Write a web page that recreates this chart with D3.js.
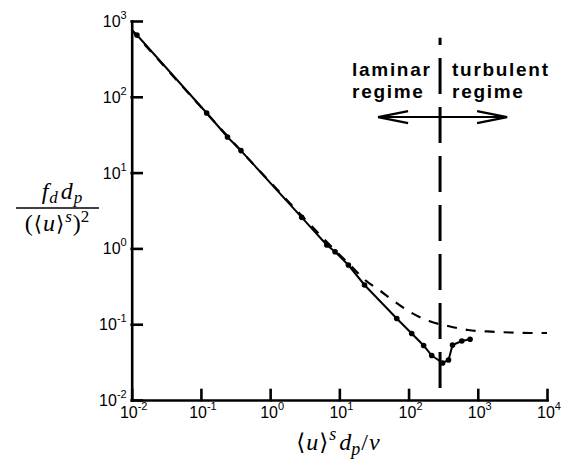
<!DOCTYPE html>
<head>
<meta charset="utf-8">
<style>
    body { margin: 0; background: #fff; }
    .lbl { font-family: "Liberation Sans", Arial, sans-serif; font-size: 16px; }
    .math { font-family: "Liberation Serif", "DejaVu Serif", serif; font-size: 24px; }
    .note { font-family: "Liberation Sans", Arial, sans-serif; font-size: 19px; font-weight: bold; letter-spacing: 1.7px; }
</style>
<script src="https://d3js.org/d3.v7.min.js"></script>
</head>
<body>
<script>
// data
var reData = [0.01, 0.0119, 0.121, 0.242, 0.379, 2.86, 6.58, 8.67, 13.5, 23.1, 67.5, 111, 165, 216, 310, 378, 432, 587, 774];
var fData  = [760, 653, 61.1, 29.5, 19.5, 2.57, 1.11, 0.904, 0.604, 0.329, 0.119, 0.0754, 0.0524, 0.0386, 0.0308, 0.0337, 0.0532, 0.060, 0.0632];

var reCorr = [0.01, 1, 10, 14.3, 23.5, 37.5, 61.7, 105, 198, 372, 724, 1362, 2930, 5700, 10000];
var fCorr  = [760, 7.5, 0.83, 0.604, 0.383, 0.283, 0.202, 0.145, 0.110, 0.0946, 0.0838, 0.0802, 0.0777, 0.0765, 0.0765];

var xTicks = [-2, -1, 0, 1, 2, 3, 4];
var yTicks = [-2, -1, 0, 1, 2, 3];

var reTransition = 285;       // vertical dashed line
var vLineY = [0.0144, 600];
var arrowY = 54, arrowX = [36.3, 2650];

var width = 569, height = 464;
var svg = d3.select("body").append("svg")
    .attr("width", width)
    .attr("height", height);

var x = d3.scaleLog().domain([1e-2, 1e4]).range([131.7, 547]);
var y = d3.scaleLog().domain([1e-2, 1e3]).range([400, 21]);

// axes, ticks pointing inward
svg.append("g")
    .attr("transform", "translate(0," + y.range()[0] + ")")
    .call(d3.axisBottom(x)
        .tickValues(xTicks.map(function(e) { return Math.pow(10, e); }))
        .tickSizeInner(-10).tickSizeOuter(0).tickFormat(""));
svg.append("g")
    .attr("transform", "translate(" + x.range()[0] + ",0)")
    .call(d3.axisLeft(y)
        .tickValues(yTicks.map(function(e) { return Math.pow(10, e); }))
        .tickSizeInner(-10).tickSizeOuter(0).tickFormat(""));
svg.selectAll(".domain, .tick line")
    .attr("stroke", "#000")
    .attr("stroke-width", 2.6)
    .attr("stroke-linecap", "square");

xTicks.forEach(function(e) {
    var t = svg.append("text").attr("class", "lbl")
        .attr("x", x(Math.pow(10, e)) + 2)
        .attr("y", y.range()[0] + 18)
        .attr("text-anchor", "middle");
    t.append("tspan").text("10");
    t.append("tspan").attr("dy", -8).attr("font-size", 11).text(e);
});
yTicks.forEach(function(e) {
    var t = svg.append("text").attr("class", "lbl")
        .attr("x", x.range()[0] - 5)
        .attr("y", y(Math.pow(10, e)) + 6)
        .attr("text-anchor", "end");
    t.append("tspan").text("10");
    t.append("tspan").attr("dy", -8).attr("font-size", 11).text(e);
});

// correlation (dashed)
var corr = reCorr.map(function(d, i) { return [d, fCorr[i]]; });
svg.append("path")
    .datum(corr)
    .attr("fill", "none")
    .attr("stroke", "#000")
    .attr("stroke-width", 2.2)
    .attr("stroke-dasharray", "10,9")
    .attr("d", d3.line()
        .x(function(d) { return x(d[0]); })
        .y(function(d) { return y(d[1]); })
        .curve(d3.curveMonotoneX));

// simulation (solid + dots)
var pts = reData.map(function(d, i) { return [d, fData[i]]; });
svg.append("path")
    .datum(pts)
    .attr("fill", "none")
    .attr("stroke", "#000")
    .attr("stroke-width", 2)
    .attr("d", d3.line()
        .x(function(d) { return x(d[0]); })
        .y(function(d) { return y(d[1]); }));
svg.append("g").selectAll("circle")
    .data(pts.filter(function(d) { return d[0] > x.domain()[0]; }))
    .enter().append("circle")
    .attr("cx", function(d) { return x(d[0]); })
    .attr("cy", function(d) { return y(d[1]); })
    .attr("r", 2.8)
    .attr("fill", "#000");

// transition line
var vx = x(reTransition);
svg.append("line")
    .attr("x1", vx).attr("x2", vx)
    .attr("y1", y(vLineY[0])).attr("y2", y(vLineY[1]))
    .attr("stroke", "#000")
    .attr("stroke-width", 3)
    .attr("stroke-dasharray", "36,13");

// arrow
var ay = y(arrowY), ax0 = x(arrowX[0]), ax1 = x(arrowX[1]);
svg.append("line")
    .attr("x1", ax0).attr("x2", ax1)
    .attr("y1", ay).attr("y2", ay)
    .attr("stroke", "#000").attr("stroke-width", 2);
svg.append("path")
    .attr("d", "M" + (ax0 + 30) + "," + (ay - 6) + "L" + ax0 + "," + ay + "L" + (ax0 + 30) + "," + (ay + 6) +
               "M" + (ax1 - 30) + "," + (ay - 6) + "L" + ax1 + "," + ay + "L" + (ax1 - 30) + "," + (ay + 6))
    .attr("fill", "none").attr("stroke", "#000").attr("stroke-width", 2.2);

var notes = [["laminar", "regime", -88], ["turbulent", "regime", 12]];
notes.forEach(function(n) {
    svg.append("text").attr("class", "note").attr("x", vx + n[2]).attr("y", 76).text(n[0]);
    svg.append("text").attr("class", "note").attr("x", vx + n[2]).attr("y", 97.5).text(n[1]);
});

// y title: f_d d_p / (<u>^s)^2
var num = svg.append("text").attr("class", "math")
    .attr("x", 62).attr("y", 199).attr("text-anchor", "middle");
num.append("tspan").attr("font-style", "italic").text("f");
num.append("tspan").attr("font-style", "italic").attr("font-size", 17).attr("dy", 4).attr("dx", 1).text("d");
num.append("tspan").attr("font-style", "italic").attr("dy", -4).attr("dx", 3).text("d");
num.append("tspan").attr("font-style", "italic").attr("font-size", 17).attr("dy", 4).attr("dx", 1).text("p");
svg.append("line")
    .attr("x1", 16).attr("x2", 99).attr("y1", 208).attr("y2", 208)
    .attr("stroke", "#000").attr("stroke-width", 1.3);
var den = svg.append("text").attr("class", "math")
    .attr("x", 57).attr("y", 231).attr("text-anchor", "middle");
den.append("tspan").text("(");
den.append("tspan").attr("font-family", "DejaVu Serif").attr("font-size", 21).attr("dx", 1).text("\u27E8");
den.append("tspan").attr("font-style", "italic").attr("dx", 1).text("u");
den.append("tspan").attr("font-family", "DejaVu Serif").attr("font-size", 21).attr("dx", 1).text("\u27E9");
den.append("tspan").attr("font-style", "italic").attr("font-size", 17).attr("dy", -9).attr("dx", 1).text("s");
den.append("tspan").attr("dy", 9).attr("dx", 1).text(")");
den.append("tspan").attr("font-size", 17).attr("dy", -9).text("2");

// x title: <u>^s d_p / nu
var xt = svg.append("text").attr("class", "math")
    .attr("x", 338).attr("y", 450).attr("text-anchor", "middle").attr("font-size", 26);
xt.append("tspan").attr("font-family", "DejaVu Serif").attr("font-size", 23).text("\u27E8");
xt.append("tspan").attr("font-style", "italic").attr("dx", 1).text("u");
xt.append("tspan").attr("font-family", "DejaVu Serif").attr("font-size", 23).attr("dx", 1).text("\u27E9");
xt.append("tspan").attr("font-style", "italic").attr("font-size", 18).attr("dy", -10).attr("dx", 1).text("s");
xt.append("tspan").attr("font-style", "italic").attr("dy", 10).attr("dx", 3).text("d");
xt.append("tspan").attr("font-style", "italic").attr("font-size", 18).attr("dy", 5).text("p");
xt.append("tspan").attr("dy", -5).attr("dx", 1).text("/");
xt.append("tspan").attr("font-style", "italic").attr("dx", 1).text("\u03BD");
</script>
</body>
